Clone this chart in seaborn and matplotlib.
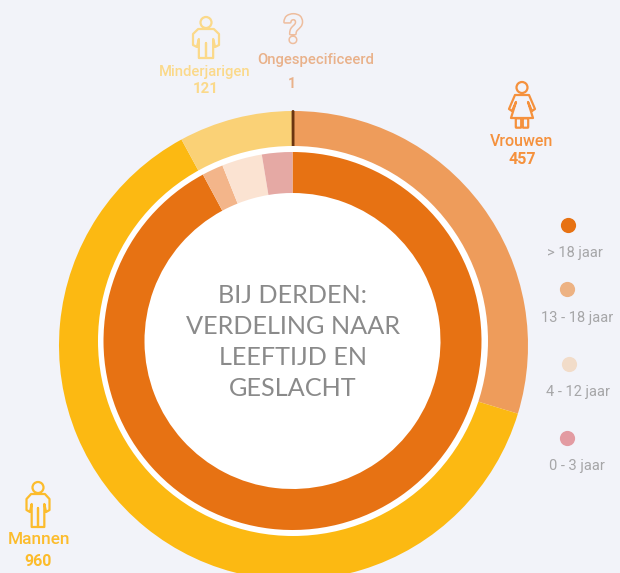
import matplotlib
matplotlib.use("Agg")
import matplotlib.pyplot as plt
import seaborn as sns
from matplotlib.patches import Circle, Polygon, FancyBboxPatch
from matplotlib.patheffects import withStroke

BG = "#f2f3f9"

outer_labels = ["Vrouwen", "Mannen", "Minderjarigen", "Ongespecificeerd"]
outer_values = [457, 960, 121, 1]
outer_colors = ["#ee9c5b", "#fcb912", "#fad176", "#6b3510"]

inner_labels = ["> 18 jaar", "13 - 18 jaar", "4 - 12 jaar", "0 - 3 jaar"]
inner_values = [1418, 28, 53, 40]
inner_colors = ["#e77213", "#f3b58a", "#fbe3d2", "#e5a9a4"]
legend_colors = ["#e77213", "#edb283", "#f2dcc9", "#e39ba2"]

sns.set_theme(style="white")
plt.rcParams["font.family"] = ["Roboto", "DejaVu Sans"]

fig = plt.figure(figsize=(6.2, 5.73), dpi=100, facecolor=BG)
ax = fig.add_axes([0, 0, 1, 1])
ax.set_facecolor(BG)

# outer ring, clockwise from 12 o'clock, hole comes from the white disc
wedges, _ = ax.pie(outer_values, colors=outer_colors, startangle=90, counterclock=False,
                   radius=234.5, center=(293.5, -345.5), frame=False,
                   wedgeprops=dict(width=70, linewidth=0, zorder=1))
# the single unknown case is wider than its value in the original
wedges[3].set_edgecolor(outer_colors[3])
wedges[3].set_linewidth(1.4)
wedges[3].set_joinstyle("bevel")
wedges[3].set_capstyle("butt")

ax.add_patch(Circle((293, -341), 195, color="white", lw=0, zorder=1.5))
ax.pie(inner_values, colors=inner_colors, startangle=90, counterclock=False,
       radius=189, center=(292.5, -341), frame=False,
       wedgeprops=dict(width=41, linewidth=0, zorder=2))

ax.set_xlim(0, 620)
ax.set_ylim(-573, 0)
ax.set_aspect("equal")
ax.axis("off")

ax.text(293, -342, "BIJ DERDEN:\nVERDELING NAAR\nLEEFTIJD EN\nGESLACHT", ha="center", va="center",
        fontsize=18.2, color="#8a8a8a", family=["Lato", "DejaVu Sans"], fontweight="normal",
        linespacing=1.42, zorder=4)

# names and counts around the ring
name_xy = [(522, -141), (39, -540), (205, -72), (316, -60)]
name_size = [11.5, 12.4, 10.6, 10.6]
count_xy = [(522, -159), (38, -561), (206, -89), (292, -84)]
count_size = [11.5, 11.5, 10.8, 10]
text_colors = ["#f5913d", "#fcbc2c", "#fbd98a", "#e9b18a"]
for name, val, nxy, ns, cxy, cs, c in zip(outer_labels, outer_values, name_xy, name_size,
                                          count_xy, count_size, text_colors):
    ax.text(nxy[0], nxy[1], name, ha="center", va="center", fontsize=ns, color=c, fontweight="medium")
    ax.text(cxy[0], cxy[1], str(val), ha="center", va="center", fontsize=cs, color=c, fontweight="bold")

# legend
leg_y = [225, 289, 364, 438]
leg_x = [568, 567, 569, 567]
txt_x = [575, 577, 578, 577]
txt_y = [253, 318, 392, 466]
for lab, c, lx, ly, tx, ty in zip(inner_labels, legend_colors, leg_x, leg_y, txt_x, txt_y):
    ax.scatter([lx], [-ly], s=120, color=c, linewidths=0, zorder=4)
    ax.text(tx, -ty, lab, ha="center", va="center", fontsize=10.5, color="#a6a6a8")


def person(cx, top, c, w=13, h=41, dress=False):
    lw = 1.6
    ax.add_patch(Circle((cx, -(top + 5.5)), 5.5, fill=False, ec=c, lw=lw))
    if dress:
        pts = [(-7, 13), (7, 13), (13, 27), (10, 29), (6, 20), (11, 36), (-11, 36), (-6, 20), (-10, 29), (-13, 27)]
        ax.add_patch(Polygon([(cx + a, -(top + b)) for a, b in pts], fill=False, ec=c, lw=lw, joinstyle="round"))
        for dx in (-3.5, 3.5):
            ax.add_patch(FancyBboxPatch((cx + dx - 2, -(top + 45)), 4, 8, boxstyle="round,pad=0.7",
                                        fill=False, ec=c, lw=lw))
    else:
        # shape in unit widths, scaled per figure
        pts = [(-.6, 12), (.6, 12), (1, 17), (1, 28), (.7, 30), (.55, 22), (.55, 1), (0, 1), (0, 26), (0, 1),
               (-.55, 1), (-.55, 22), (-.7, 30), (-1, 28), (-1, 17)]
        pts = [(a * w, h if b == 1 else b) for a, b in pts]
        ax.add_patch(Polygon([(cx + a, -(top + b)) for a, b in pts], fill=False, ec=c, lw=lw, joinstyle="round"))


person(522, 82, "#f5913d", dress=True)
person(38, 482, "#fcbc2c", w=11.5, h=45)
person(206, 17, "#fbd98a", w=13, h=41)

ax.text(293.5, -32, "?", ha="center", va="center", fontsize=28, color=BG, fontweight="bold",
        path_effects=[withStroke(linewidth=2.2, foreground="#eebd9e")])

fig.savefig("out.png", dpi=100, facecolor=BG)
